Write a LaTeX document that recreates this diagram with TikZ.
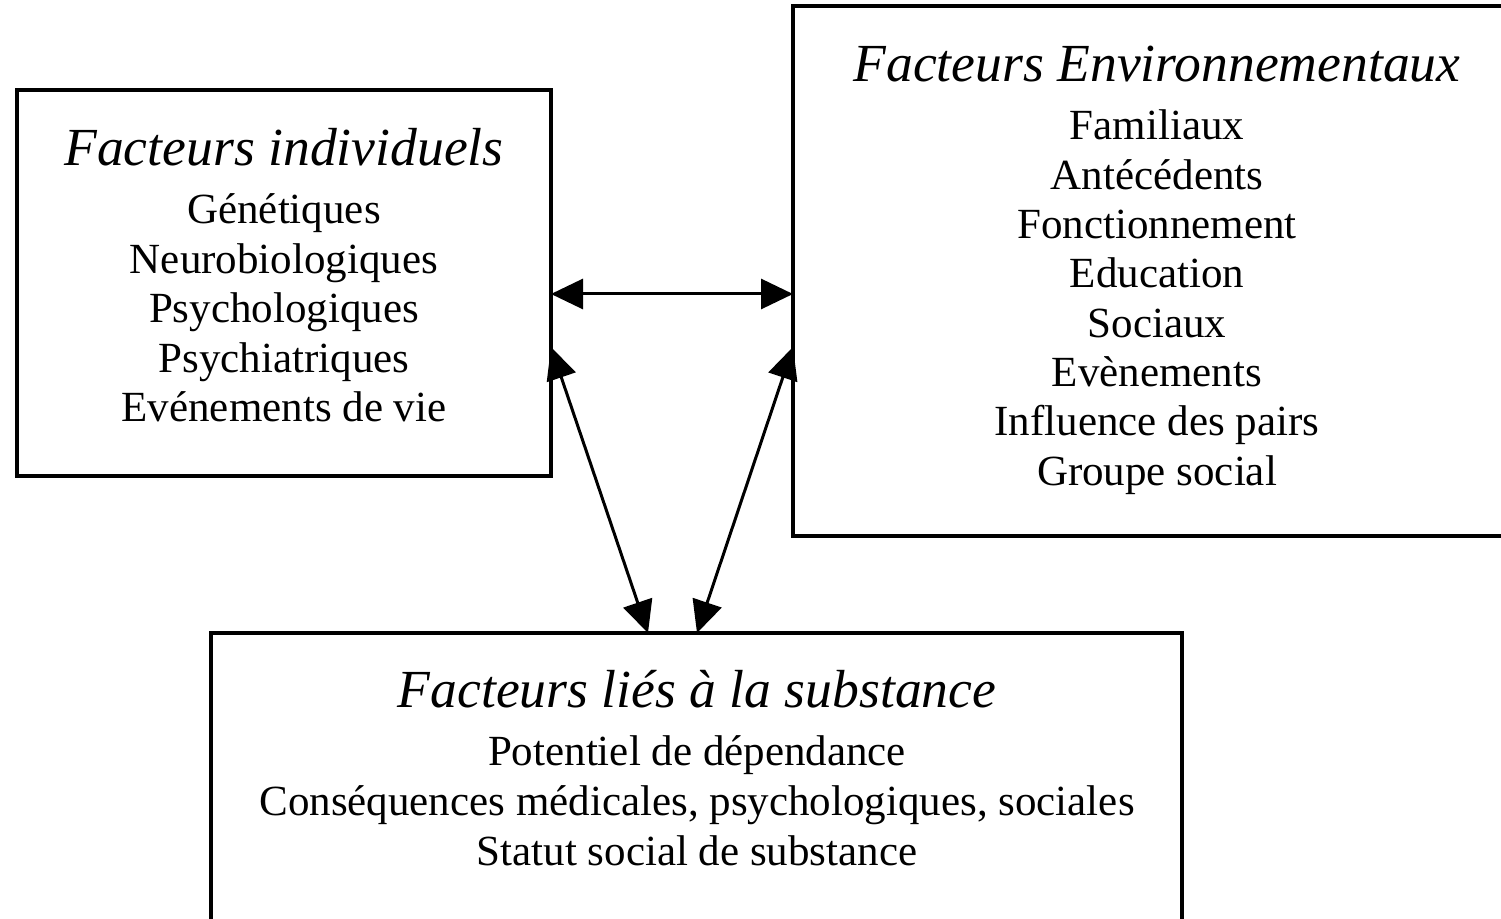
\documentclass[tikz,border=0pt]{standalone}
\usepackage{fontspec}
\setmainfont{Liberation Serif}
\usetikzlibrary{arrows.meta,fit}
\begin{document}
\begin{tikzpicture}[x=0.5pt,y=-0.5pt,
  box/.style={draw=black, line width=2pt, inner sep=0pt},
  ttl/.style={anchor=base, font=\fontsize{26.8}{30}\selectfont\itshape, inner sep=0pt},
  itm/.style={anchor=base, font=\fontsize{21.5}{24.5}\selectfont, inner sep=0pt},
  link/.style={line width=1.5pt, {Triangle[length=16pt,width=15pt]}-{Triangle[length=16pt,width=15pt]}}]
\clip (0,0) rectangle (1501,919);
\fill[white] (0,0) rectangle (1501,919);
% boxes
\node[box, fit={(17,90) (551,476)}] (ind) {};
\node[box, fit={(793,6) (1520,536)}] (env) {};
\node[box, fit={(211,633) (1182,940)}] (sub) {};
% individual factors
\node[ttl] (indt) at (284,166) {Facteurs individuels};
\node[itm] (ind1) at (284,224) {Génétiques};
\node[itm] (ind2) at (284,273.5) {Neurobiologiques};
\node[itm] (ind3) at (284,323) {Psychologiques};
\node[itm] (ind4) at (284,372.5) {Psychiatriques};
\node[itm] (ind5) at (284,422) {Evénements de vie};
% environmental factors
\node[ttl] (envt) at (1157,82) {Facteurs Environnementaux};
\node[itm] (env1) at (1157,140) {Familiaux};
\node[itm] (env2) at (1157,189.5) {Antécédents};
\node[itm] (env3) at (1157,239) {Fonctionnement};
\node[itm] (env4) at (1157,288) {Education};
\node[itm] (env5) at (1157,337.5) {Sociaux};
\node[itm] (env6) at (1157,387) {Evènements};
\node[itm] (env7) at (1157,436) {Influence des pairs};
\node[itm] (env8) at (1157,485.5) {Groupe social};
% substance factors
\node[ttl] (subt) at (697,708) {Facteurs liés à la substance};
\node[itm] (sub1) at (697,766) {Potentiel de dépendance};
\node[itm] (sub2) at (697,815.5) {Conséquences médicales, psychologiques, sociales};
\node[itm] (sub3) at (697,865) {Statut social de substance};
% connector ends on the borders
\coordinate (ie) at (551,294);
\coordinate (ee) at (793,294);
\coordinate (il) at (551,347);
\coordinate (el) at (793,347);
\coordinate (sl) at (648,633);
\coordinate (sr) at (697,633);
\draw[link] (ie) -- (ee);
\draw[link] (il) -- (sl);
\draw[link] (el) -- (sr);
\end{tikzpicture}
\end{document}
